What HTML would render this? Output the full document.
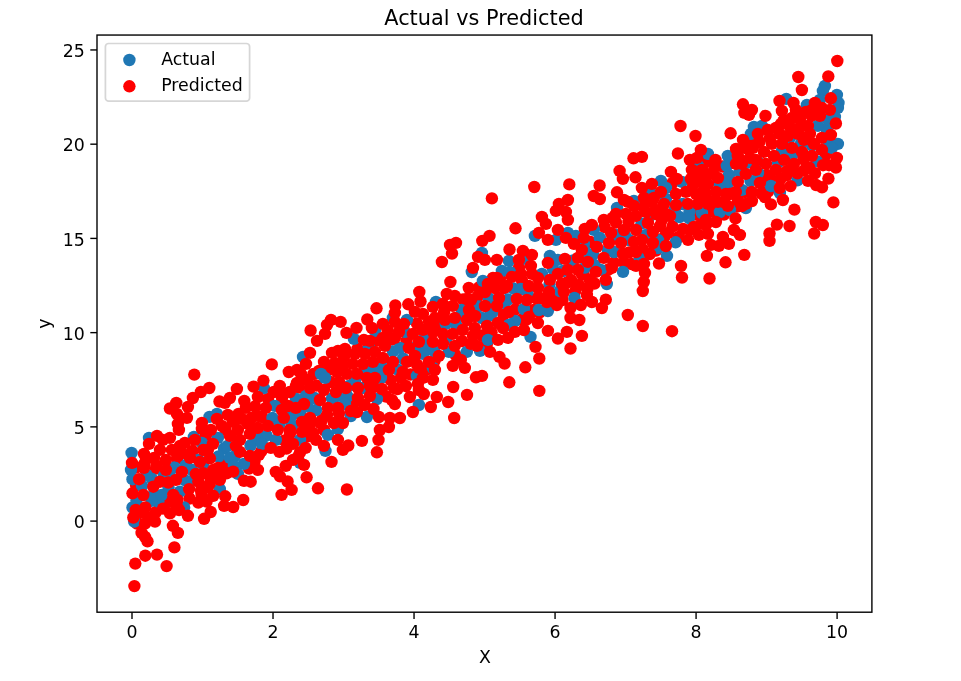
<!DOCTYPE html>
<html lang="en"><head><meta charset="utf-8"><title>Actual vs Predicted</title>
<style>
html,body{margin:0;padding:0;background:#fff;}
svg{display:block;}
text{font-family:"DejaVu Sans","Liberation Sans",sans-serif;fill:#000;}
.tk{font-size:17.36px;}
</style></head>
<body>
<svg width="961" height="681" viewBox="0 0 961 681">
<rect x="0" y="0" width="961" height="681" fill="#fff"/>
<clipPath id="ax"><rect x="97" y="35.05" width="774.9" height="577.15"/></clipPath>
<g clip-path="url(#ax)">
<g fill="#ff0000"><circle cx="767.0" cy="175.0" r="6.2"/><circle cx="156.0" cy="468.5" r="6.2"/><circle cx="536.5" cy="298.5" r="6.2"/><circle cx="616.0" cy="222.5" r="6.2"/><circle cx="624.0" cy="262.5" r="6.2"/><circle cx="571.0" cy="280.0" r="6.2"/><circle cx="189.5" cy="498.5" r="6.2"/><circle cx="417.0" cy="323.5" r="6.2"/><circle cx="780.5" cy="179.0" r="6.2"/><circle cx="284.5" cy="440.5" r="6.2"/><circle cx="672.5" cy="226.5" r="6.2"/><circle cx="364.5" cy="405.0" r="6.2"/><circle cx="192.5" cy="451.0" r="6.2"/><circle cx="462.0" cy="341.0" r="6.2"/><circle cx="255.0" cy="406.5" r="6.2"/><circle cx="698.0" cy="181.5" r="6.2"/><circle cx="335.0" cy="363.0" r="6.2"/><circle cx="327.0" cy="415.0" r="6.2"/><circle cx="390.5" cy="380.0" r="6.2"/><circle cx="790.0" cy="127.0" r="6.2"/><circle cx="594.5" cy="283.5" r="6.2"/><circle cx="478.0" cy="296.0" r="6.2"/><circle cx="313.5" cy="374.0" r="6.2"/><circle cx="759.5" cy="142.0" r="6.2"/><circle cx="268.0" cy="399.0" r="6.2"/><circle cx="628.5" cy="222.0" r="6.2"/><circle cx="583.5" cy="273.5" r="6.2"/><circle cx="249.0" cy="468.5" r="6.2"/><circle cx="715.0" cy="167.0" r="6.2"/><circle cx="156.0" cy="512.0" r="6.2"/><circle cx="444.0" cy="312.5" r="6.2"/><circle cx="604.5" cy="227.0" r="6.2"/><circle cx="316.5" cy="385.5" r="6.2"/><circle cx="429.0" cy="322.0" r="6.2"/><circle cx="491.5" cy="332.5" r="6.2"/><circle cx="562.5" cy="300.0" r="6.2"/><circle cx="503.5" cy="315.0" r="6.2"/><circle cx="387.5" cy="330.0" r="6.2"/><circle cx="339.0" cy="413.5" r="6.2"/><circle cx="344.0" cy="357.0" r="6.2"/><circle cx="738.0" cy="200.5" r="6.2"/><circle cx="515.0" cy="309.5" r="6.2"/><circle cx="482.0" cy="335.5" r="6.2"/><circle cx="406.5" cy="341.0" r="6.2"/><circle cx="410.5" cy="374.5" r="6.2"/><circle cx="324.0" cy="430.0" r="6.2"/><circle cx="614.0" cy="262.5" r="6.2"/><circle cx="330.5" cy="382.0" r="6.2"/><circle cx="712.5" cy="211.5" r="6.2"/><circle cx="826.0" cy="154.5" r="6.2"/><circle cx="180.0" cy="446.0" r="6.2"/><circle cx="238.5" cy="414.0" r="6.2"/><circle cx="575.5" cy="290.5" r="6.2"/><circle cx="745.5" cy="148.0" r="6.2"/><circle cx="701.5" cy="223.5" r="6.2"/><circle cx="706.5" cy="162.0" r="6.2"/><circle cx="678.5" cy="237.0" r="6.2"/><circle cx="643.0" cy="249.5" r="6.2"/><circle cx="672.5" cy="183.0" r="6.2"/><circle cx="282.0" cy="398.0" r="6.2"/><circle cx="386.0" cy="396.5" r="6.2"/><circle cx="522.0" cy="319.5" r="6.2"/><circle cx="286.5" cy="448.5" r="6.2"/><circle cx="167.5" cy="502.0" r="6.2"/><circle cx="330.0" cy="369.5" r="6.2"/><circle cx="761.5" cy="193.5" r="6.2"/><circle cx="357.5" cy="349.0" r="6.2"/><circle cx="455.5" cy="355.0" r="6.2"/><circle cx="201.0" cy="490.5" r="6.2"/><circle cx="519.0" cy="267.5" r="6.2"/><circle cx="522.0" cy="280.5" r="6.2"/><circle cx="590.5" cy="242.0" r="6.2"/><circle cx="206.0" cy="435.5" r="6.2"/><circle cx="629.0" cy="252.5" r="6.2"/><circle cx="144.5" cy="463.5" r="6.2"/><circle cx="479.0" cy="287.5" r="6.2"/><circle cx="811.5" cy="116.0" r="6.2"/><circle cx="251.5" cy="418.0" r="6.2"/><circle cx="309.0" cy="426.0" r="6.2"/><circle cx="224.0" cy="465.0" r="6.2"/><circle cx="724.0" cy="214.5" r="6.2"/><circle cx="254.5" cy="461.5" r="6.2"/><circle cx="533.5" cy="310.0" r="6.2"/><circle cx="804.0" cy="170.5" r="6.2"/><circle cx="587.5" cy="288.5" r="6.2"/><circle cx="262.0" cy="417.0" r="6.2"/><circle cx="436.0" cy="326.0" r="6.2"/><circle cx="299.0" cy="387.5" r="6.2"/><circle cx="631.5" cy="264.0" r="6.2"/><circle cx="643.0" cy="206.5" r="6.2"/><circle cx="377.5" cy="340.5" r="6.2"/><circle cx="307.0" cy="436.5" r="6.2"/><circle cx="693.0" cy="184.5" r="6.2"/><circle cx="504.5" cy="288.0" r="6.2"/><circle cx="397.5" cy="389.0" r="6.2"/><circle cx="225.5" cy="430.0" r="6.2"/><circle cx="355.5" cy="401.0" r="6.2"/><circle cx="493.0" cy="278.0" r="6.2"/><circle cx="428.0" cy="369.0" r="6.2"/><circle cx="787.0" cy="175.0" r="6.2"/><circle cx="417.0" cy="364.5" r="6.2"/><circle cx="290.0" cy="433.5" r="6.2"/><circle cx="463.0" cy="299.5" r="6.2"/><circle cx="556.5" cy="297.0" r="6.2"/><circle cx="138.5" cy="513.5" r="6.2"/><circle cx="722.5" cy="166.5" r="6.2"/><circle cx="799.0" cy="128.5" r="6.2"/><circle cx="695.5" cy="214.5" r="6.2"/><circle cx="136.0" cy="485.0" r="6.2"/><circle cx="182.0" cy="453.0" r="6.2"/><circle cx="690.0" cy="230.0" r="6.2"/><circle cx="539.5" cy="312.5" r="6.2"/><circle cx="319.0" cy="371.0" r="6.2"/><circle cx="297.0" cy="383.0" r="6.2"/><circle cx="500.0" cy="278.5" r="6.2"/><circle cx="261.5" cy="451.0" r="6.2"/><circle cx="706.0" cy="225.0" r="6.2"/><circle cx="665.0" cy="236.0" r="6.2"/><circle cx="768.0" cy="191.5" r="6.2"/><circle cx="608.5" cy="269.5" r="6.2"/><circle cx="745.0" cy="192.0" r="6.2"/><circle cx="322.0" cy="420.0" r="6.2"/><circle cx="210.0" cy="476.5" r="6.2"/><circle cx="136.0" cy="467.5" r="6.2"/><circle cx="770.0" cy="178.0" r="6.2"/><circle cx="540.0" cy="298.0" r="6.2"/><circle cx="752.5" cy="139.0" r="6.2"/><circle cx="374.0" cy="387.0" r="6.2"/><circle cx="700.5" cy="177.0" r="6.2"/><circle cx="208.0" cy="487.0" r="6.2"/><circle cx="137.0" cy="523.5" r="6.2"/><circle cx="737.0" cy="206.5" r="6.2"/><circle cx="612.5" cy="218.0" r="6.2"/><circle cx="392.0" cy="339.5" r="6.2"/><circle cx="656.0" cy="250.5" r="6.2"/><circle cx="567.0" cy="282.5" r="6.2"/><circle cx="156.5" cy="465.5" r="6.2"/><circle cx="434.5" cy="361.0" r="6.2"/><circle cx="582.0" cy="274.5" r="6.2"/><circle cx="487.0" cy="343.5" r="6.2"/><circle cx="526.5" cy="319.5" r="6.2"/><circle cx="177.0" cy="458.5" r="6.2"/><circle cx="781.0" cy="124.0" r="6.2"/></g>
<g fill="#1f77b4"><circle cx="224.0" cy="448.5" r="6.2"/><circle cx="250.5" cy="445.5" r="6.2"/><circle cx="316.0" cy="410.0" r="6.2"/><circle cx="272.5" cy="418.0" r="6.2"/><circle cx="679.5" cy="217.0" r="6.2"/><circle cx="729.0" cy="175.0" r="6.2"/><circle cx="508.0" cy="299.5" r="6.2"/><circle cx="266.5" cy="435.5" r="6.2"/><circle cx="218.5" cy="456.5" r="6.2"/><circle cx="750.5" cy="181.0" r="6.2"/><circle cx="174.5" cy="467.5" r="6.2"/><circle cx="593.0" cy="254.5" r="6.2"/><circle cx="332.0" cy="398.5" r="6.2"/><circle cx="393.0" cy="351.5" r="6.2"/><circle cx="142.0" cy="486.0" r="6.2"/><circle cx="482.0" cy="318.0" r="6.2"/><circle cx="347.5" cy="396.5" r="6.2"/><circle cx="403.0" cy="358.5" r="6.2"/><circle cx="300.0" cy="413.5" r="6.2"/><circle cx="489.0" cy="298.5" r="6.2"/><circle cx="355.0" cy="381.0" r="6.2"/><circle cx="314.5" cy="398.0" r="6.2"/><circle cx="513.5" cy="288.5" r="6.2"/><circle cx="782.0" cy="151.0" r="6.2"/><circle cx="689.5" cy="211.5" r="6.2"/><circle cx="553.0" cy="269.0" r="6.2"/><circle cx="184.5" cy="480.0" r="6.2"/><circle cx="136.5" cy="500.5" r="6.2"/><circle cx="625.0" cy="235.5" r="6.2"/><circle cx="478.5" cy="306.5" r="6.2"/><circle cx="827.0" cy="130.5" r="6.2"/><circle cx="641.5" cy="223.5" r="6.2"/><circle cx="456.0" cy="325.0" r="6.2"/><circle cx="594.5" cy="265.0" r="6.2"/><circle cx="256.0" cy="437.0" r="6.2"/><circle cx="168.5" cy="487.5" r="6.2"/><circle cx="152.0" cy="479.0" r="6.2"/><circle cx="424.0" cy="339.0" r="6.2"/><circle cx="397.5" cy="369.5" r="6.2"/><circle cx="382.0" cy="367.0" r="6.2"/><circle cx="192.0" cy="470.0" r="6.2"/><circle cx="434.0" cy="351.0" r="6.2"/><circle cx="573.0" cy="260.5" r="6.2"/><circle cx="307.5" cy="406.5" r="6.2"/><circle cx="682.5" cy="204.0" r="6.2"/><circle cx="549.5" cy="284.5" r="6.2"/><circle cx="616.0" cy="235.0" r="6.2"/><circle cx="279.5" cy="424.0" r="6.2"/><circle cx="801.0" cy="143.5" r="6.2"/><circle cx="365.0" cy="370.5" r="6.2"/><circle cx="527.5" cy="292.0" r="6.2"/><circle cx="227.5" cy="446.0" r="6.2"/><circle cx="778.0" cy="162.5" r="6.2"/><circle cx="728.0" cy="183.0" r="6.2"/><circle cx="362.5" cy="388.0" r="6.2"/><circle cx="563.0" cy="271.0" r="6.2"/><circle cx="235.0" cy="456.0" r="6.2"/><circle cx="748.0" cy="162.5" r="6.2"/><circle cx="203.0" cy="464.5" r="6.2"/><circle cx="828.0" cy="140.5" r="6.2"/><circle cx="337.0" cy="396.0" r="6.2"/><circle cx="812.0" cy="145.5" r="6.2"/><circle cx="446.5" cy="338.0" r="6.2"/><circle cx="504.5" cy="303.0" r="6.2"/><circle cx="758.0" cy="173.0" r="6.2"/><circle cx="293.0" cy="414.0" r="6.2"/><circle cx="585.0" cy="267.5" r="6.2"/><circle cx="415.5" cy="347.5" r="6.2"/><circle cx="675.0" cy="209.0" r="6.2"/><circle cx="490.0" cy="315.5" r="6.2"/><circle cx="629.0" cy="240.0" r="6.2"/><circle cx="719.0" cy="184.0" r="6.2"/><circle cx="198.5" cy="460.0" r="6.2"/><circle cx="792.5" cy="154.5" r="6.2"/><circle cx="169.5" cy="471.5" r="6.2"/><circle cx="349.0" cy="386.0" r="6.2"/><circle cx="585.0" cy="251.0" r="6.2"/><circle cx="158.3" cy="501.6" r="6.2"/><circle cx="151.6" cy="500.8" r="6.2"/><circle cx="184.1" cy="507.5" r="6.2"/><circle cx="325.5" cy="450.9" r="6.2"/><circle cx="327.9" cy="434.9" r="6.2"/><circle cx="337.9" cy="429.0" r="6.2"/><circle cx="350.9" cy="416.0" r="6.2"/><circle cx="366.9" cy="417.0" r="6.2"/><circle cx="530.5" cy="336.9" r="6.2"/><circle cx="514.9" cy="321.0" r="6.2"/><circle cx="508.9" cy="325.0" r="6.2"/><circle cx="492.0" cy="313.0" r="6.2"/><circle cx="547.9" cy="311.0" r="6.2"/><circle cx="488.0" cy="339.9" r="6.2"/><circle cx="675.6" cy="242.3" r="6.2"/><circle cx="689.0" cy="218.0" r="6.2"/><circle cx="701.9" cy="213.0" r="6.2"/><circle cx="719.9" cy="212.0" r="6.2"/><circle cx="824.9" cy="86.0" r="6.2"/><circle cx="822.9" cy="90.9" r="6.2"/><circle cx="836.9" cy="94.9" r="6.2"/><circle cx="838.5" cy="102.9" r="6.2"/><circle cx="837.9" cy="107.9" r="6.2"/><circle cx="786.3" cy="98.9" r="6.2"/><circle cx="806.9" cy="104.9" r="6.2"/><circle cx="819.9" cy="99.9" r="6.2"/><circle cx="753.9" cy="126.9" r="6.2"/><circle cx="761.9" cy="125.9" r="6.2"/><circle cx="837.9" cy="143.9" r="6.2"/><circle cx="817.9" cy="125.9" r="6.2"/><circle cx="827.9" cy="119.9" r="6.2"/><circle cx="834.9" cy="116.9" r="6.2"/><circle cx="750.9" cy="133.9" r="6.2"/><circle cx="789.9" cy="137.9" r="6.2"/><circle cx="149.0" cy="437.9" r="6.2"/><circle cx="193.9" cy="436.9" r="6.2"/><circle cx="201.9" cy="442.9" r="6.2"/><circle cx="209.5" cy="416.9" r="6.2"/><circle cx="216.9" cy="413.9" r="6.2"/><circle cx="263.8" cy="388.0" r="6.2"/><circle cx="261.8" cy="443.9" r="6.2"/><circle cx="217.9" cy="437.9" r="6.2"/><circle cx="353.9" cy="338.9" r="6.2"/><circle cx="399.9" cy="347.9" r="6.2"/><circle cx="404.9" cy="331.9" r="6.2"/><circle cx="392.9" cy="317.9" r="6.2"/><circle cx="406.9" cy="319.9" r="6.2"/><circle cx="435.9" cy="301.9" r="6.2"/><circle cx="426.9" cy="349.9" r="6.2"/><circle cx="422.9" cy="353.9" r="6.2"/><circle cx="448.8" cy="351.9" r="6.2"/><circle cx="445.8" cy="323.9" r="6.2"/><circle cx="368.9" cy="346.9" r="6.2"/><circle cx="374.9" cy="330.9" r="6.2"/><circle cx="481.9" cy="252.9" r="6.2"/><circle cx="549.9" cy="255.9" r="6.2"/><circle cx="555.9" cy="239.9" r="6.2"/><circle cx="567.9" cy="232.9" r="6.2"/><circle cx="575.9" cy="235.9" r="6.2"/><circle cx="583.8" cy="243.9" r="6.2"/><circle cx="534.9" cy="235.9" r="6.2"/><circle cx="660.9" cy="180.9" r="6.2"/><circle cx="665.9" cy="187.9" r="6.2"/><circle cx="681.9" cy="181.9" r="6.2"/><circle cx="707.9" cy="153.9" r="6.2"/><circle cx="727.8" cy="155.9" r="6.2"/><circle cx="726.8" cy="165.9" r="6.2"/><circle cx="723.8" cy="183.9" r="6.2"/><circle cx="697.9" cy="165.9" r="6.2"/><circle cx="649.9" cy="191.9" r="6.2"/><circle cx="657.9" cy="248.0" r="6.2"/><circle cx="729.9" cy="210.0" r="6.2"/><circle cx="300.0" cy="462.9" r="6.2"/><circle cx="300.0" cy="439.9" r="6.2"/><circle cx="538.9" cy="310.0" r="6.2"/><circle cx="523.9" cy="309.0" r="6.2"/><circle cx="831.9" cy="147.9" r="6.2"/><circle cx="229.9" cy="457.9" r="6.2"/><circle cx="593.8" cy="229.9" r="6.2"/><circle cx="745.9" cy="208.0" r="6.2"/><circle cx="274.8" cy="405.9" r="6.2"/><circle cx="525.9" cy="258.9" r="6.2"/><circle cx="665.9" cy="198.9" r="6.2"/><circle cx="667.0" cy="255.9" r="6.2"/><circle cx="275.8" cy="439.9" r="6.2"/><circle cx="557.9" cy="259.9" r="6.2"/><circle cx="461.8" cy="309.9" r="6.2"/><circle cx="508.9" cy="260.9" r="6.2"/><circle cx="633.9" cy="200.9" r="6.2"/><circle cx="646.0" cy="235.0" r="6.2"/><circle cx="153.3" cy="495.0" r="6.2"/><circle cx="161.6" cy="495.0" r="6.2"/><circle cx="418.9" cy="405.0" r="6.2"/><circle cx="480.0" cy="350.9" r="6.2"/><circle cx="793.9" cy="151.9" r="6.2"/><circle cx="462.8" cy="315.9" r="6.2"/><circle cx="344.9" cy="404.0" r="6.2"/><circle cx="599.8" cy="237.9" r="6.2"/><circle cx="739.8" cy="171.9" r="6.2"/><circle cx="243.9" cy="463.9" r="6.2"/><circle cx="292.0" cy="426.0" r="6.2"/><circle cx="179.9" cy="491.6" r="6.2"/><circle cx="131.6" cy="452.9" r="6.2"/><circle cx="185.9" cy="464.9" r="6.2"/><circle cx="233.9" cy="465.9" r="6.2"/><circle cx="466.8" cy="351.9" r="6.2"/><circle cx="741.8" cy="189.9" r="6.2"/><circle cx="219.9" cy="489.1" r="6.2"/><circle cx="640.0" cy="259.0" r="6.2"/><circle cx="296.0" cy="399.0" r="6.2"/><circle cx="376.9" cy="399.0" r="6.2"/><circle cx="432.9" cy="367.9" r="6.2"/><circle cx="617.0" cy="207.9" r="6.2"/><circle cx="574.5" cy="298.0" r="6.2"/><circle cx="658.0" cy="239.9" r="6.2"/><circle cx="614.0" cy="252.0" r="6.2"/><circle cx="797.5" cy="180.3" r="6.2"/><circle cx="131.0" cy="469.9" r="6.2"/><circle cx="374.9" cy="369.9" r="6.2"/><circle cx="600.8" cy="269.9" r="6.2"/><circle cx="306.0" cy="396.0" r="6.2"/><circle cx="471.8" cy="272.0" r="6.2"/><circle cx="501.9" cy="270.9" r="6.2"/><circle cx="607.8" cy="249.9" r="6.2"/><circle cx="757.9" cy="161.9" r="6.2"/><circle cx="509.9" cy="271.9" r="6.2"/><circle cx="134.2" cy="521.6" r="6.2"/><circle cx="779.9" cy="193.0" r="6.2"/><circle cx="132.5" cy="507.5" r="6.2"/><circle cx="289.8" cy="419.9" r="6.2"/><circle cx="237.9" cy="473.9" r="6.2"/><circle cx="321.0" cy="373.9" r="6.2"/><circle cx="541.9" cy="273.9" r="6.2"/><circle cx="816.7" cy="161.1" r="6.2"/><circle cx="559.9" cy="291.0" r="6.2"/><circle cx="192.4" cy="480.8" r="6.2"/><circle cx="163.9" cy="475.9" r="6.2"/><circle cx="416.9" cy="375.9" r="6.2"/><circle cx="132.5" cy="479.2" r="6.2"/><circle cx="520.9" cy="289.0" r="6.2"/><circle cx="325.0" cy="377.9" r="6.2"/><circle cx="380.9" cy="377.9" r="6.2"/><circle cx="303.0" cy="356.9" r="6.2"/><circle cx="623.0" cy="271.9" r="6.2"/><circle cx="770.9" cy="186.0" r="6.2"/><circle cx="649.9" cy="216.0" r="6.2"/><circle cx="482.9" cy="280.9" r="6.2"/><circle cx="146.6" cy="475.0" r="6.2"/><circle cx="606.8" cy="284.0" r="6.2"/></g>
<g fill="#ff0000"><circle cx="174.4" cy="547.4" r="6.2"/><circle cx="177.9" cy="532.9" r="6.2"/><circle cx="172.9" cy="525.8" r="6.2"/><circle cx="155.0" cy="521.6" r="6.2"/><circle cx="187.9" cy="515.8" r="6.2"/><circle cx="204.1" cy="518.8" r="6.2"/><circle cx="210.7" cy="512.0" r="6.2"/><circle cx="163.0" cy="508.6" r="6.2"/><circle cx="170.0" cy="513.3" r="6.2"/><circle cx="176.6" cy="505.8" r="6.2"/><circle cx="179.1" cy="510.0" r="6.2"/><circle cx="224.1" cy="505.8" r="6.2"/><circle cx="233.2" cy="507.0" r="6.2"/><circle cx="198.3" cy="502.5" r="6.2"/><circle cx="206.6" cy="501.6" r="6.2"/><circle cx="306.6" cy="477.3" r="6.2"/><circle cx="331.5" cy="461.9" r="6.2"/><circle cx="304.0" cy="464.9" r="6.2"/><circle cx="305.6" cy="447.9" r="6.2"/><circle cx="323.9" cy="445.9" r="6.2"/><circle cx="316.0" cy="439.9" r="6.2"/><circle cx="337.9" cy="439.9" r="6.2"/><circle cx="342.9" cy="449.9" r="6.2"/><circle cx="348.3" cy="445.5" r="6.2"/><circle cx="361.9" cy="440.9" r="6.2"/><circle cx="376.9" cy="452.3" r="6.2"/><circle cx="378.5" cy="439.9" r="6.2"/><circle cx="379.9" cy="430.0" r="6.2"/><circle cx="388.9" cy="427.0" r="6.2"/><circle cx="378.9" cy="417.0" r="6.2"/><circle cx="389.9" cy="418.0" r="6.2"/><circle cx="399.9" cy="418.0" r="6.2"/><circle cx="356.9" cy="412.0" r="6.2"/><circle cx="350.9" cy="411.0" r="6.2"/><circle cx="412.9" cy="412.0" r="6.2"/><circle cx="302.0" cy="422.0" r="6.2"/><circle cx="310.0" cy="418.0" r="6.2"/><circle cx="320.0" cy="423.0" r="6.2"/><circle cx="333.9" cy="423.0" r="6.2"/><circle cx="342.9" cy="423.0" r="6.2"/><circle cx="302.0" cy="431.9" r="6.2"/><circle cx="313.0" cy="432.9" r="6.2"/><circle cx="509.3" cy="382.3" r="6.2"/><circle cx="525.3" cy="367.3" r="6.2"/><circle cx="539.3" cy="358.5" r="6.2"/><circle cx="535.5" cy="346.9" r="6.2"/><circle cx="504.6" cy="363.5" r="6.2"/><circle cx="499.4" cy="356.9" r="6.2"/><circle cx="490.0" cy="351.9" r="6.2"/><circle cx="570.5" cy="348.5" r="6.2"/><circle cx="581.9" cy="335.9" r="6.2"/><circle cx="566.9" cy="331.9" r="6.2"/><circle cx="557.9" cy="338.5" r="6.2"/><circle cx="547.9" cy="330.9" r="6.2"/><circle cx="579.3" cy="320.0" r="6.2"/><circle cx="570.5" cy="318.0" r="6.2"/><circle cx="537.9" cy="323.0" r="6.2"/><circle cx="528.9" cy="317.0" r="6.2"/><circle cx="523.9" cy="330.0" r="6.2"/><circle cx="514.9" cy="331.9" r="6.2"/><circle cx="507.9" cy="337.9" r="6.2"/><circle cx="498.0" cy="339.9" r="6.2"/><circle cx="508.9" cy="312.0" r="6.2"/><circle cx="487.0" cy="326.0" r="6.2"/><circle cx="498.0" cy="323.0" r="6.2"/><circle cx="503.0" cy="328.0" r="6.2"/><circle cx="681.0" cy="265.9" r="6.2"/><circle cx="682.0" cy="277.5" r="6.2"/><circle cx="709.5" cy="278.5" r="6.2"/><circle cx="706.9" cy="255.9" r="6.2"/><circle cx="725.5" cy="262.3" r="6.2"/><circle cx="744.3" cy="254.9" r="6.2"/><circle cx="710.9" cy="244.9" r="6.2"/><circle cx="718.9" cy="245.9" r="6.2"/><circle cx="728.9" cy="243.9" r="6.2"/><circle cx="722.9" cy="236.9" r="6.2"/><circle cx="733.9" cy="230.0" r="6.2"/><circle cx="739.9" cy="234.9" r="6.2"/><circle cx="735.5" cy="218.4" r="6.2"/><circle cx="769.5" cy="240.9" r="6.2"/><circle cx="769.5" cy="233.5" r="6.2"/><circle cx="776.9" cy="224.6" r="6.2"/><circle cx="789.5" cy="226.0" r="6.2"/><circle cx="688.0" cy="239.9" r="6.2"/><circle cx="698.9" cy="234.9" r="6.2"/><circle cx="707.9" cy="233.9" r="6.2"/><circle cx="705.9" cy="220.0" r="6.2"/><circle cx="715.9" cy="222.0" r="6.2"/><circle cx="693.9" cy="227.0" r="6.2"/><circle cx="683.0" cy="229.0" r="6.2"/><circle cx="828.3" cy="76.4" r="6.2"/><circle cx="798.3" cy="77.0" r="6.2"/><circle cx="801.9" cy="90.0" r="6.2"/><circle cx="830.9" cy="98.3" r="6.2"/><circle cx="779.5" cy="100.9" r="6.2"/><circle cx="793.5" cy="102.9" r="6.2"/><circle cx="781.9" cy="110.9" r="6.2"/><circle cx="743.0" cy="104.3" r="6.2"/><circle cx="751.9" cy="109.9" r="6.2"/><circle cx="744.4" cy="112.9" r="6.2"/><circle cx="749.0" cy="114.9" r="6.2"/><circle cx="765.5" cy="115.9" r="6.2"/><circle cx="730.6" cy="133.3" r="6.2"/><circle cx="743.0" cy="139.9" r="6.2"/><circle cx="835.9" cy="123.5" r="6.2"/><circle cx="829.9" cy="109.9" r="6.2"/><circle cx="830.9" cy="134.9" r="6.2"/><circle cx="821.9" cy="137.9" r="6.2"/><circle cx="814.9" cy="102.9" r="6.2"/><circle cx="821.9" cy="107.9" r="6.2"/><circle cx="811.9" cy="109.9" r="6.2"/><circle cx="819.9" cy="115.9" r="6.2"/><circle cx="757.9" cy="133.9" r="6.2"/><circle cx="767.9" cy="129.9" r="6.2"/><circle cx="775.9" cy="127.9" r="6.2"/><circle cx="783.9" cy="119.9" r="6.2"/><circle cx="791.9" cy="117.9" r="6.2"/><circle cx="799.9" cy="119.9" r="6.2"/><circle cx="805.9" cy="111.9" r="6.2"/><circle cx="795.9" cy="109.9" r="6.2"/><circle cx="787.9" cy="135.9" r="6.2"/><circle cx="797.9" cy="133.9" r="6.2"/><circle cx="807.9" cy="125.9" r="6.2"/><circle cx="803.9" cy="139.9" r="6.2"/><circle cx="813.9" cy="143.9" r="6.2"/><circle cx="781.9" cy="143.9" r="6.2"/><circle cx="771.9" cy="143.9" r="6.2"/><circle cx="769.9" cy="137.9" r="6.2"/><circle cx="779.9" cy="133.9" r="6.2"/><circle cx="809.9" cy="133.9" r="6.2"/><circle cx="822.0" cy="187.3" r="6.2"/><circle cx="816.1" cy="185.0" r="6.2"/><circle cx="263.4" cy="380.6" r="6.2"/><circle cx="253.5" cy="386.6" r="6.2"/><circle cx="236.9" cy="389.0" r="6.2"/><circle cx="209.3" cy="388.0" r="6.2"/><circle cx="200.9" cy="392.0" r="6.2"/><circle cx="192.9" cy="398.0" r="6.2"/><circle cx="187.9" cy="406.9" r="6.2"/><circle cx="176.3" cy="402.9" r="6.2"/><circle cx="169.9" cy="408.5" r="6.2"/><circle cx="176.9" cy="413.9" r="6.2"/><circle cx="186.9" cy="417.9" r="6.2"/><circle cx="177.9" cy="423.9" r="6.2"/><circle cx="178.9" cy="429.9" r="6.2"/><circle cx="219.5" cy="401.5" r="6.2"/><circle cx="229.9" cy="398.0" r="6.2"/><circle cx="224.9" cy="402.9" r="6.2"/><circle cx="244.3" cy="400.9" r="6.2"/><circle cx="245.9" cy="407.9" r="6.2"/><circle cx="257.9" cy="397.0" r="6.2"/><circle cx="265.8" cy="407.9" r="6.2"/><circle cx="257.9" cy="415.9" r="6.2"/><circle cx="157.0" cy="435.9" r="6.2"/><circle cx="149.0" cy="443.9" r="6.2"/><circle cx="144.0" cy="453.9" r="6.2"/><circle cx="162.9" cy="439.9" r="6.2"/><circle cx="169.9" cy="437.9" r="6.2"/><circle cx="201.9" cy="422.9" r="6.2"/><circle cx="216.9" cy="418.9" r="6.2"/><circle cx="227.9" cy="414.9" r="6.2"/><circle cx="201.9" cy="428.9" r="6.2"/><circle cx="210.9" cy="429.9" r="6.2"/><circle cx="221.9" cy="425.9" r="6.2"/><circle cx="184.9" cy="442.9" r="6.2"/><circle cx="194.9" cy="439.9" r="6.2"/><circle cx="212.9" cy="443.9" r="6.2"/><circle cx="207.9" cy="449.9" r="6.2"/><circle cx="270.8" cy="447.9" r="6.2"/><circle cx="258.9" cy="454.9" r="6.2"/><circle cx="232.9" cy="421.9" r="6.2"/><circle cx="241.9" cy="418.9" r="6.2"/><circle cx="247.9" cy="423.9" r="6.2"/><circle cx="237.9" cy="429.9" r="6.2"/><circle cx="229.9" cy="435.9" r="6.2"/><circle cx="239.9" cy="439.9" r="6.2"/><circle cx="249.9" cy="433.9" r="6.2"/><circle cx="257.9" cy="427.9" r="6.2"/><circle cx="267.8" cy="425.9" r="6.2"/><circle cx="160.0" cy="449.9" r="6.2"/><circle cx="171.9" cy="449.9" r="6.2"/><circle cx="177.9" cy="455.9" r="6.2"/><circle cx="239.9" cy="451.9" r="6.2"/><circle cx="249.9" cy="455.9" r="6.2"/><circle cx="235.9" cy="445.9" r="6.2"/><circle cx="327.0" cy="324.9" r="6.2"/><circle cx="331.0" cy="319.9" r="6.2"/><circle cx="340.6" cy="321.9" r="6.2"/><circle cx="346.5" cy="332.9" r="6.2"/><circle cx="356.5" cy="327.9" r="6.2"/><circle cx="367.3" cy="319.5" r="6.2"/><circle cx="376.5" cy="308.3" r="6.2"/><circle cx="371.9" cy="327.9" r="6.2"/><circle cx="363.9" cy="339.9" r="6.2"/><circle cx="369.9" cy="340.9" r="6.2"/><circle cx="395.3" cy="305.5" r="6.2"/><circle cx="394.9" cy="312.9" r="6.2"/><circle cx="382.9" cy="323.9" r="6.2"/><circle cx="394.9" cy="321.9" r="6.2"/><circle cx="403.9" cy="323.9" r="6.2"/><circle cx="408.3" cy="304.3" r="6.2"/><circle cx="419.3" cy="292.0" r="6.2"/><circle cx="420.5" cy="301.5" r="6.2"/><circle cx="414.9" cy="311.9" r="6.2"/><circle cx="422.9" cy="313.9" r="6.2"/><circle cx="450.4" cy="282.0" r="6.2"/><circle cx="446.8" cy="294.0" r="6.2"/><circle cx="454.8" cy="296.0" r="6.2"/><circle cx="432.9" cy="306.9" r="6.2"/><circle cx="442.9" cy="303.9" r="6.2"/><circle cx="452.8" cy="305.9" r="6.2"/><circle cx="434.9" cy="317.9" r="6.2"/><circle cx="444.9" cy="319.9" r="6.2"/><circle cx="454.8" cy="317.9" r="6.2"/><circle cx="332.0" cy="352.9" r="6.2"/><circle cx="338.0" cy="350.9" r="6.2"/><circle cx="345.0" cy="348.9" r="6.2"/><circle cx="354.9" cy="353.9" r="6.2"/><circle cx="364.9" cy="353.9" r="6.2"/><circle cx="374.9" cy="351.9" r="6.2"/><circle cx="384.9" cy="345.9" r="6.2"/><circle cx="382.9" cy="337.9" r="6.2"/><circle cx="394.9" cy="337.9" r="6.2"/><circle cx="398.9" cy="331.9" r="6.2"/><circle cx="412.9" cy="333.9" r="6.2"/><circle cx="422.9" cy="329.9" r="6.2"/><circle cx="432.9" cy="331.9" r="6.2"/><circle cx="442.9" cy="333.9" r="6.2"/><circle cx="452.8" cy="333.9" r="6.2"/><circle cx="454.8" cy="345.9" r="6.2"/><circle cx="442.9" cy="343.9" r="6.2"/><circle cx="432.9" cy="341.9" r="6.2"/><circle cx="418.9" cy="341.9" r="6.2"/><circle cx="408.9" cy="347.9" r="6.2"/><circle cx="414.9" cy="355.9" r="6.2"/><circle cx="438.9" cy="355.9" r="6.2"/><circle cx="491.9" cy="198.4" r="6.2"/><circle cx="534.3" cy="187.0" r="6.2"/><circle cx="569.3" cy="184.4" r="6.2"/><circle cx="567.9" cy="200.0" r="6.2"/><circle cx="558.9" cy="203.9" r="6.2"/><circle cx="555.9" cy="210.9" r="6.2"/><circle cx="565.9" cy="211.9" r="6.2"/><circle cx="567.9" cy="219.9" r="6.2"/><circle cx="541.9" cy="216.9" r="6.2"/><circle cx="545.9" cy="223.9" r="6.2"/><circle cx="538.9" cy="232.9" r="6.2"/><circle cx="547.9" cy="239.9" r="6.2"/><circle cx="557.9" cy="229.9" r="6.2"/><circle cx="515.5" cy="228.3" r="6.2"/><circle cx="489.5" cy="235.9" r="6.2"/><circle cx="482.3" cy="240.9" r="6.2"/><circle cx="509.5" cy="249.5" r="6.2"/><circle cx="522.9" cy="250.9" r="6.2"/><circle cx="531.9" cy="254.9" r="6.2"/><circle cx="565.9" cy="237.9" r="6.2"/><circle cx="573.9" cy="243.9" r="6.2"/><circle cx="583.8" cy="237.9" r="6.2"/><circle cx="584.8" cy="228.9" r="6.2"/><circle cx="591.8" cy="224.9" r="6.2"/><circle cx="581.8" cy="249.9" r="6.2"/><circle cx="680.5" cy="126.0" r="6.2"/><circle cx="695.5" cy="136.0" r="6.2"/><circle cx="677.9" cy="153.5" r="6.2"/><circle cx="700.9" cy="149.9" r="6.2"/><circle cx="689.9" cy="159.9" r="6.2"/><circle cx="696.9" cy="157.9" r="6.2"/><circle cx="715.5" cy="159.9" r="6.2"/><circle cx="633.5" cy="158.3" r="6.2"/><circle cx="641.9" cy="156.9" r="6.2"/><circle cx="619.6" cy="170.9" r="6.2"/><circle cx="622.9" cy="178.9" r="6.2"/><circle cx="635.5" cy="177.3" r="6.2"/><circle cx="617.0" cy="192.3" r="6.2"/><circle cx="670.9" cy="171.9" r="6.2"/><circle cx="676.9" cy="178.9" r="6.2"/><circle cx="691.9" cy="169.9" r="6.2"/><circle cx="690.9" cy="178.9" r="6.2"/><circle cx="701.9" cy="169.9" r="6.2"/><circle cx="709.9" cy="173.9" r="6.2"/><circle cx="717.9" cy="177.9" r="6.2"/><circle cx="707.9" cy="183.9" r="6.2"/><circle cx="641.9" cy="187.9" r="6.2"/><circle cx="651.9" cy="183.9" r="6.2"/><circle cx="660.9" cy="191.9" r="6.2"/><circle cx="675.9" cy="193.9" r="6.2"/><circle cx="685.9" cy="191.9" r="6.2"/><circle cx="695.9" cy="193.9" r="6.2"/><circle cx="705.9" cy="193.9" r="6.2"/><circle cx="715.9" cy="191.9" r="6.2"/><circle cx="725.8" cy="193.9" r="6.2"/><circle cx="634.0" cy="242.0" r="6.2"/><circle cx="652.9" cy="243.0" r="6.2"/><circle cx="203.3" cy="473.3" r="6.2"/><circle cx="213.2" cy="469.9" r="6.2"/><circle cx="221.6" cy="474.9" r="6.2"/><circle cx="209.9" cy="483.3" r="6.2"/><circle cx="198.3" cy="481.6" r="6.2"/><circle cx="219.9" cy="479.9" r="6.2"/><circle cx="226.6" cy="473.3" r="6.2"/><circle cx="233.2" cy="471.6" r="6.2"/><circle cx="203.3" cy="450.0" r="6.2"/><circle cx="209.9" cy="458.3" r="6.2"/><circle cx="134.4" cy="586.1" r="6.2"/><circle cx="672.0" cy="331.2" r="6.2"/><circle cx="177.4" cy="500.0" r="6.2"/><circle cx="243.2" cy="500.0" r="6.2"/><circle cx="300.0" cy="452.3" r="6.2"/><circle cx="670.0" cy="216.0" r="6.2"/><circle cx="325.0" cy="333.9" r="6.2"/><circle cx="599.6" cy="185.5" r="6.2"/><circle cx="794.4" cy="209.6" r="6.2"/><circle cx="478.0" cy="256.9" r="6.2"/><circle cx="373.5" cy="409.0" r="6.2"/><circle cx="157.0" cy="554.6" r="6.2"/><circle cx="828.4" cy="178.6" r="6.2"/><circle cx="148.3" cy="517.5" r="6.2"/><circle cx="752.9" cy="147.9" r="6.2"/><circle cx="791.9" cy="147.9" r="6.2"/><circle cx="273.8" cy="392.0" r="6.2"/><circle cx="154.0" cy="457.9" r="6.2"/><circle cx="189.9" cy="457.9" r="6.2"/><circle cx="382.9" cy="357.9" r="6.2"/><circle cx="577.9" cy="257.9" r="6.2"/><circle cx="653.9" cy="197.9" r="6.2"/><circle cx="643.9" cy="197.9" r="6.2"/><circle cx="593.8" cy="196.0" r="6.2"/><circle cx="298.0" cy="456.9" r="6.2"/><circle cx="327.9" cy="408.0" r="6.2"/><circle cx="337.9" cy="408.0" r="6.2"/><circle cx="570.5" cy="308.0" r="6.2"/><circle cx="601.9" cy="308.0" r="6.2"/><circle cx="668.0" cy="232.9" r="6.2"/><circle cx="808.0" cy="180.9" r="6.2"/><circle cx="318.0" cy="488.3" r="6.2"/><circle cx="147.5" cy="541.3" r="6.2"/><circle cx="736.0" cy="148.9" r="6.2"/><circle cx="564.9" cy="258.9" r="6.2"/><circle cx="430.8" cy="407.0" r="6.2"/><circle cx="482.0" cy="375.9" r="6.2"/><circle cx="833.4" cy="202.4" r="6.2"/><circle cx="346.9" cy="489.5" r="6.2"/><circle cx="225.2" cy="496.3" r="6.2"/><circle cx="735.8" cy="191.9" r="6.2"/><circle cx="821.9" cy="149.9" r="6.2"/><circle cx="165.9" cy="459.9" r="6.2"/><circle cx="460.8" cy="359.9" r="6.2"/><circle cx="484.9" cy="259.9" r="6.2"/><circle cx="496.9" cy="259.9" r="6.2"/><circle cx="518.9" cy="259.9" r="6.2"/><circle cx="623.9" cy="199.9" r="6.2"/><circle cx="636.0" cy="252.0" r="6.2"/><circle cx="665.9" cy="246.0" r="6.2"/><circle cx="741.9" cy="206.0" r="6.2"/><circle cx="485.0" cy="306.0" r="6.2"/><circle cx="497.0" cy="306.0" r="6.2"/><circle cx="456.0" cy="242.9" r="6.2"/><circle cx="213.2" cy="495.8" r="6.2"/><circle cx="145.3" cy="555.7" r="6.2"/><circle cx="145.3" cy="507.5" r="6.2"/><circle cx="539.3" cy="390.9" r="6.2"/><circle cx="596.8" cy="246.9" r="6.2"/><circle cx="621.0" cy="243.0" r="6.2"/><circle cx="145.0" cy="536.9" r="6.2"/><circle cx="145.0" cy="523.6" r="6.2"/><circle cx="676.0" cy="205.0" r="6.2"/><circle cx="173.3" cy="495.0" r="6.2"/><circle cx="201.6" cy="495.0" r="6.2"/><circle cx="580.9" cy="305.0" r="6.2"/><circle cx="556.9" cy="305.0" r="6.2"/><circle cx="194.3" cy="374.6" r="6.2"/><circle cx="770.9" cy="204.4" r="6.2"/><circle cx="801.9" cy="151.9" r="6.2"/><circle cx="763.9" cy="151.9" r="6.2"/><circle cx="277.8" cy="429.9" r="6.2"/><circle cx="199.9" cy="461.9" r="6.2"/><circle cx="324.0" cy="361.9" r="6.2"/><circle cx="462.8" cy="329.9" r="6.2"/><circle cx="406.9" cy="361.9" r="6.2"/><circle cx="428.9" cy="361.9" r="6.2"/><circle cx="392.9" cy="361.9" r="6.2"/><circle cx="372.9" cy="361.9" r="6.2"/><circle cx="587.8" cy="261.9" r="6.2"/><circle cx="627.9" cy="201.9" r="6.2"/><circle cx="717.9" cy="201.9" r="6.2"/><circle cx="737.8" cy="181.9" r="6.2"/><circle cx="737.8" cy="155.9" r="6.2"/><circle cx="623.0" cy="254.0" r="6.2"/><circle cx="649.9" cy="254.0" r="6.2"/><circle cx="394.9" cy="404.0" r="6.2"/><circle cx="304.0" cy="404.0" r="6.2"/><circle cx="664.0" cy="204.0" r="6.2"/><circle cx="815.0" cy="173.3" r="6.2"/><circle cx="143.3" cy="495.0" r="6.2"/><circle cx="547.9" cy="262.9" r="6.2"/><circle cx="293.0" cy="459.9" r="6.2"/><circle cx="293.0" cy="443.9" r="6.2"/><circle cx="279.4" cy="451.9" r="6.2"/><circle cx="599.8" cy="199.0" r="6.2"/><circle cx="279.8" cy="386.0" r="6.2"/><circle cx="362.9" cy="363.9" r="6.2"/><circle cx="352.9" cy="363.9" r="6.2"/><circle cx="707.9" cy="203.9" r="6.2"/><circle cx="697.9" cy="203.9" r="6.2"/><circle cx="687.9" cy="203.9" r="6.2"/><circle cx="711.9" cy="202.0" r="6.2"/><circle cx="723.9" cy="202.0" r="6.2"/><circle cx="132.0" cy="462.9" r="6.2"/><circle cx="652.9" cy="232.0" r="6.2"/><circle cx="591.9" cy="302.0" r="6.2"/><circle cx="546.9" cy="302.0" r="6.2"/><circle cx="477.0" cy="345.9" r="6.2"/><circle cx="317.0" cy="340.9" r="6.2"/><circle cx="452.0" cy="253.5" r="6.2"/><circle cx="141.6" cy="532.9" r="6.2"/><circle cx="291.6" cy="489.9" r="6.2"/><circle cx="751.9" cy="201.0" r="6.2"/><circle cx="837.3" cy="61.0" r="6.2"/><circle cx="476.0" cy="377.3" r="6.2"/><circle cx="811.9" cy="155.9" r="6.2"/><circle cx="773.9" cy="155.9" r="6.2"/><circle cx="281.8" cy="409.9" r="6.2"/><circle cx="466.8" cy="299.0" r="6.2"/><circle cx="452.8" cy="365.9" r="6.2"/><circle cx="343.0" cy="365.9" r="6.2"/><circle cx="530.9" cy="265.9" r="6.2"/><circle cx="633.9" cy="205.9" r="6.2"/><circle cx="727.8" cy="205.9" r="6.2"/><circle cx="741.8" cy="163.9" r="6.2"/><circle cx="782.9" cy="200.0" r="6.2"/><circle cx="699.9" cy="200.0" r="6.2"/><circle cx="624.0" cy="230.0" r="6.2"/><circle cx="636.0" cy="230.0" r="6.2"/><circle cx="391.9" cy="400.0" r="6.2"/><circle cx="320.0" cy="400.0" r="6.2"/><circle cx="526.9" cy="300.0" r="6.2"/><circle cx="475.0" cy="316.0" r="6.2"/><circle cx="660.0" cy="226.0" r="6.2"/><circle cx="450.0" cy="244.9" r="6.2"/><circle cx="605.8" cy="299.6" r="6.2"/><circle cx="627.8" cy="315.0" r="6.2"/><circle cx="189.1" cy="489.1" r="6.2"/><circle cx="659.0" cy="263.5" r="6.2"/><circle cx="516.9" cy="299.0" r="6.2"/><circle cx="603.8" cy="219.9" r="6.2"/><circle cx="603.8" cy="257.9" r="6.2"/><circle cx="836.9" cy="157.9" r="6.2"/><circle cx="283.8" cy="417.9" r="6.2"/><circle cx="217.9" cy="467.9" r="6.2"/><circle cx="144.0" cy="467.9" r="6.2"/><circle cx="468.8" cy="288.0" r="6.2"/><circle cx="418.9" cy="367.9" r="6.2"/><circle cx="464.8" cy="367.9" r="6.2"/><circle cx="473.0" cy="267.9" r="6.2"/><circle cx="357.9" cy="398.0" r="6.2"/><circle cx="288.0" cy="406.0" r="6.2"/><circle cx="473.0" cy="335.9" r="6.2"/><circle cx="499.0" cy="298.0" r="6.2"/><circle cx="814.2" cy="233.5" r="6.2"/><circle cx="287.6" cy="481.5" r="6.2"/><circle cx="835.9" cy="167.5" r="6.2"/><circle cx="809.1" cy="167.5" r="6.2"/><circle cx="797.5" cy="173.3" r="6.2"/><circle cx="166.6" cy="566.1" r="6.2"/><circle cx="764.9" cy="197.0" r="6.2"/><circle cx="436.8" cy="397.0" r="6.2"/><circle cx="409.9" cy="397.0" r="6.2"/><circle cx="153.3" cy="486.7" r="6.2"/><circle cx="740.0" cy="159.9" r="6.2"/><circle cx="783.9" cy="159.9" r="6.2"/><circle cx="755.9" cy="159.9" r="6.2"/><circle cx="165.9" cy="469.9" r="6.2"/><circle cx="257.9" cy="469.9" r="6.2"/><circle cx="285.8" cy="465.9" r="6.2"/><circle cx="470.8" cy="315.9" r="6.2"/><circle cx="470.8" cy="343.9" r="6.2"/><circle cx="434.9" cy="369.9" r="6.2"/><circle cx="388.9" cy="369.9" r="6.2"/><circle cx="577.9" cy="269.9" r="6.2"/><circle cx="567.9" cy="269.9" r="6.2"/><circle cx="655.9" cy="209.9" r="6.2"/><circle cx="815.8" cy="222.0" r="6.2"/><circle cx="745.8" cy="173.9" r="6.2"/><circle cx="745.8" cy="203.9" r="6.2"/><circle cx="369.9" cy="396.0" r="6.2"/><circle cx="471.0" cy="300.0" r="6.2"/><circle cx="656.0" cy="214.0" r="6.2"/><circle cx="135.8" cy="510.0" r="6.2"/><circle cx="310.6" cy="330.5" r="6.2"/><circle cx="135.3" cy="563.6" r="6.2"/><circle cx="829.0" cy="165.2" r="6.2"/><circle cx="823.1" cy="165.2" r="6.2"/><circle cx="611.0" cy="233.0" r="6.2"/><circle cx="586.9" cy="295.0" r="6.2"/><circle cx="310.0" cy="352.9" r="6.2"/><circle cx="271.8" cy="364.4" r="6.2"/><circle cx="181.9" cy="471.9" r="6.2"/><circle cx="275.8" cy="471.9" r="6.2"/><circle cx="402.9" cy="371.9" r="6.2"/><circle cx="337.0" cy="371.9" r="6.2"/><circle cx="595.8" cy="271.9" r="6.2"/><circle cx="645.9" cy="211.9" r="6.2"/><circle cx="644.0" cy="263.9" r="6.2"/><circle cx="423.8" cy="394.0" r="6.2"/><circle cx="469.0" cy="310.0" r="6.2"/><circle cx="729.9" cy="194.0" r="6.2"/><circle cx="448.2" cy="402.0" r="6.2"/><circle cx="133.3" cy="517.5" r="6.2"/><circle cx="288.8" cy="372.0" r="6.2"/><circle cx="609.0" cy="243.0" r="6.2"/><circle cx="647.9" cy="223.0" r="6.2"/><circle cx="168.3" cy="482.5" r="6.2"/><circle cx="132.5" cy="493.3" r="6.2"/><circle cx="736.0" cy="163.9" r="6.2"/><circle cx="793.9" cy="163.9" r="6.2"/><circle cx="765.9" cy="163.9" r="6.2"/><circle cx="289.8" cy="392.0" r="6.2"/><circle cx="289.8" cy="429.9" r="6.2"/><circle cx="195.9" cy="473.9" r="6.2"/><circle cx="474.8" cy="327.9" r="6.2"/><circle cx="346.9" cy="373.9" r="6.2"/><circle cx="356.9" cy="373.9" r="6.2"/><circle cx="520.9" cy="273.9" r="6.2"/><circle cx="557.9" cy="273.9" r="6.2"/><circle cx="531.9" cy="273.9" r="6.2"/><circle cx="665.9" cy="213.9" r="6.2"/><circle cx="625.9" cy="213.9" r="6.2"/><circle cx="616.0" cy="213.9" r="6.2"/><circle cx="749.8" cy="157.9" r="6.2"/><circle cx="636.0" cy="265.9" r="6.2"/><circle cx="282.0" cy="393.0" r="6.2"/><circle cx="335.9" cy="392.0" r="6.2"/><circle cx="467.0" cy="394.9" r="6.2"/><circle cx="563.9" cy="292.0" r="6.2"/><circle cx="548.9" cy="292.0" r="6.2"/><circle cx="485.0" cy="292.0" r="6.2"/><circle cx="467.0" cy="320.0" r="6.2"/><circle cx="751.9" cy="192.0" r="6.2"/><circle cx="652.0" cy="202.0" r="6.2"/><circle cx="441.9" cy="262.0" r="6.2"/><circle cx="160.0" cy="481.7" r="6.2"/><circle cx="250.7" cy="481.7" r="6.2"/><circle cx="281.6" cy="494.9" r="6.2"/><circle cx="306.0" cy="363.9" r="6.2"/><circle cx="244.0" cy="480.8" r="6.2"/><circle cx="790.5" cy="186.1" r="6.2"/><circle cx="611.8" cy="267.9" r="6.2"/><circle cx="635.9" cy="215.9" r="6.2"/><circle cx="280.0" cy="476.3" r="6.2"/><circle cx="418.9" cy="390.0" r="6.2"/><circle cx="323.9" cy="390.0" r="6.2"/><circle cx="703.9" cy="190.0" r="6.2"/><circle cx="661.9" cy="220.0" r="6.2"/><circle cx="803.3" cy="159.3" r="6.2"/><circle cx="822.8" cy="225.0" r="6.2"/><circle cx="511.9" cy="276.9" r="6.2"/><circle cx="139.1" cy="479.2" r="6.2"/><circle cx="381.9" cy="389.0" r="6.2"/><circle cx="422.9" cy="377.9" r="6.2"/><circle cx="366.9" cy="377.9" r="6.2"/><circle cx="374.9" cy="377.9" r="6.2"/><circle cx="400.9" cy="377.9" r="6.2"/><circle cx="496.9" cy="277.9" r="6.2"/><circle cx="537.9" cy="277.9" r="6.2"/><circle cx="345.9" cy="388.0" r="6.2"/><circle cx="357.9" cy="388.0" r="6.2"/><circle cx="393.9" cy="388.0" r="6.2"/><circle cx="310.0" cy="388.0" r="6.2"/><circle cx="537.9" cy="288.0" r="6.2"/><circle cx="495.0" cy="288.0" r="6.2"/><circle cx="779.9" cy="188.0" r="6.2"/><circle cx="454.2" cy="418.0" r="6.2"/><circle cx="787.0" cy="171.0" r="6.2"/><circle cx="453.2" cy="387.0" r="6.2"/><circle cx="755.8" cy="169.9" r="6.2"/><circle cx="295.8" cy="407.9" r="6.2"/><circle cx="175.9" cy="479.9" r="6.2"/><circle cx="432.9" cy="379.9" r="6.2"/><circle cx="307.0" cy="379.9" r="6.2"/><circle cx="549.9" cy="279.9" r="6.2"/><circle cx="589.8" cy="279.9" r="6.2"/><circle cx="605.8" cy="279.9" r="6.2"/><circle cx="775.9" cy="169.9" r="6.2"/><circle cx="369.9" cy="386.0" r="6.2"/><circle cx="405.9" cy="386.0" r="6.2"/><circle cx="296.0" cy="386.0" r="6.2"/><circle cx="528.9" cy="286.0" r="6.2"/><circle cx="506.9" cy="286.0" r="6.2"/><circle cx="301.0" cy="373.9" r="6.2"/><circle cx="645.0" cy="272.9" r="6.2"/><circle cx="578.9" cy="285.0" r="6.2"/><circle cx="339.0" cy="381.9" r="6.2"/><circle cx="642.8" cy="326.0" r="6.2"/><circle cx="642.8" cy="291.0" r="6.2"/><circle cx="417.9" cy="384.0" r="6.2"/><circle cx="759.9" cy="183.0" r="6.2"/><circle cx="487.9" cy="283.9" r="6.2"/><circle cx="561.9" cy="283.9" r="6.2"/><circle cx="643.8" cy="282.0" r="6.2"/><circle cx="642.0" cy="239.9" r="6.2"/><circle cx="297.0" cy="369.9" r="6.2"/></g>
</g>
<g stroke="#000" stroke-width="1.39" fill="none">
<line x1="132.00" y1="612.20" x2="132.00" y2="618.90"/><line x1="273.02" y1="612.20" x2="273.02" y2="618.90"/><line x1="414.04" y1="612.20" x2="414.04" y2="618.90"/><line x1="555.06" y1="612.20" x2="555.06" y2="618.90"/><line x1="696.08" y1="612.20" x2="696.08" y2="618.90"/><line x1="837.10" y1="612.20" x2="837.10" y2="618.90"/><line x1="90.30" y1="521.10" x2="97.00" y2="521.10"/><line x1="90.30" y1="426.87" x2="97.00" y2="426.87"/><line x1="90.30" y1="332.64" x2="97.00" y2="332.64"/><line x1="90.30" y1="238.41" x2="97.00" y2="238.41"/><line x1="90.30" y1="144.18" x2="97.00" y2="144.18"/><line x1="90.30" y1="49.95" x2="97.00" y2="49.95"/>
<rect x="97" y="35.05" width="774.9" height="577.15" stroke-linejoin="miter"/>
</g>
<g class="tk" text-anchor="middle"><text x="132.00" y="638.30">0</text><text x="273.02" y="638.30">2</text><text x="414.04" y="638.30">4</text><text x="555.06" y="638.30">6</text><text x="696.08" y="638.30">8</text><text x="837.10" y="638.30">10</text></g>
<g class="tk" text-anchor="end"><text x="84.80" y="528.40">0</text><text x="84.80" y="434.17">5</text><text x="84.80" y="339.94">10</text><text x="84.80" y="245.71">15</text><text x="84.80" y="151.48">20</text><text x="84.80" y="57.25">25</text></g>
<text class="tk" text-anchor="middle" x="484.90" y="662.60">X</text>
<text class="tk" text-anchor="middle" transform="translate(50.20,323.60) rotate(-90)">y</text>
<text text-anchor="middle" font-size="20.83px" x="484.00" y="25.00">Actual vs Predicted</text>
<rect x="105.4" y="43.5" width="144.2" height="57.7" rx="3.3" ry="3.3" fill="#fff" fill-opacity="0.8" stroke="#ccc" stroke-opacity="0.8" stroke-width="1.736"/>
<circle cx="129.4" cy="60.0" r="6.2" fill="#1f77b4"/><circle cx="129.4" cy="86.3" r="6.2" fill="#ff0000"/>
<text class="tk" x="161.20" y="65.00">Actual</text><text class="tk" x="161.20" y="91.20">Predicted</text>
</svg>
</body></html>
